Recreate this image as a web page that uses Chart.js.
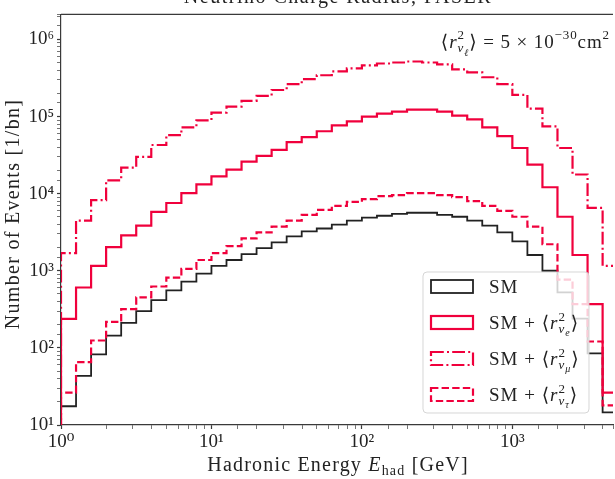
<!DOCTYPE html>
<html>
<head>
<meta charset="utf-8">
<script src="https://cdn.jsdelivr.net/npm/chart.js@4.4.1/dist/chart.umd.min.js"></script>
<style>
body{margin:0;background:#fff;}
#marco{width:615px;height:479px;position:relative;}
</style>
</head>
<body>
<div id="marco"><canvas id="idGrafEventos"></canvas></div>
<script>
// bin edges (GeV), 10 per decade
const binEdges = [1, 1.259, 1.585, 1.995, 2.512, 3.162, 3.981, 5.012, 6.310, 7.943,
	10, 12.59, 15.85, 19.95, 25.12, 31.62, 39.81, 50.12, 63.10, 79.43,
	100, 125.9, 158.5, 199.5, 251.2, 316.2, 398.1, 501.2, 631.0, 794.3,
	1000, 1259, 1585, 1995, 2512, 3162, 3981, 5012];

// events per bin
const eventsSM = [17.5, 43.4, 82.6, 144, 211, 300, 415, 556, 724, 916,
	1159, 1380, 1647, 1963, 2339, 2790, 3234, 3530, 3972, 4467,
	4876, 5168, 5480, 5650, 5650, 5321, 5020, 4467, 3855, 3141,
	2410, 1600, 1000, 525, 240, 85, 14.6];
const eventsNuE = [238, 607, 1159, 2023, 2877, 3855, 5808, 7568, 10140, 13210,
	16710, 20510, 25950, 30900, 36900, 46670, 53960, 64400, 76770, 86300,
	100000, 109200, 115900, 122800, 122800, 115900, 103000, 91600, 72400, 55600,
	39100, 23770, 12100, 5020, 1600, 369, 26.3];
const eventsNuMu = [1694, 4467, 8260, 14860, 21770, 30050, 42760, 57300, 72400, 88900,
	112500, 134000, 160000, 185300, 220800, 263000, 304800, 342700, 385500, 420800,
	459500, 487400, 502000, 516800, 502000, 473200, 408300, 374100, 323300, 263000,
	190600, 126500, 74600, 39100, 17700, 6530, 1159];
const eventsNuTau = [26.3, 65.3, 124.6, 217.5, 318.6, 453, 625, 814, 1059, 1380,
	1694, 2081, 2632, 3141, 3741, 4467, 5321, 6166, 6934, 7798,
	8511, 9296, 9575, 10140, 10140, 9575, 9016, 8022, 6934, 5984,
	5020, 3741, 2208, 767, 369, 121, 18];

const seriesNames = ['SM', 'SM + ⟨r²νe⟩', 'SM + ⟨r²νμ⟩', 'SM + ⟨r²ντ⟩'];
const flavourSubs = ['', 'e', 'μ', 'τ'];

const titulo = 'Neutrino Charge Radius, FASER';
const xTitulo = 'Hadronic Energy ';
const yTitulo = 'Number of Events [1/bn]';

const SERIF = "'Liberation Serif', 'DejaVu Serif', serif";
const ROJO = '#f0003c';
const NEGRO = '#222222';
const EJE = '#3a3a3a';
const SUP = '⁰¹²³⁴⁵⁶⁷⁸⁹';

function esPotencia(v){
	let l = Math.log10(v);
	return Math.abs(l - Math.round(l)) < 1e-6;
}

function etiquetaPot(v){
	if(!esPotencia(v)) return '';
	let e = Math.round(Math.log10(v));
	return '10' + String(e).split('').map(d => SUP[+d]).join('');
}

// histogram outline (step) from the bin arrays
function escalones(vals){
	let pts = [{x: binEdges[0], y: 0.1}];
	for(let i in vals){
		pts.push({x: binEdges[i], y: vals[i]});
	}
	pts.push({x: binEdges[vals.length], y: vals[vals.length - 1]});
	pts.push({x: binEdges[vals.length], y: 0.1});
	return pts;
}

// text with sub/superscripts
function fuente(p){
	return (p.it ? 'italic ' : '') + p.s + 'px ' + SERIF;
}
function textoRico(ctx, partes, x, y, align, esp){
	ctx.letterSpacing = (esp || 0) + 'px';
	let cx = 0, pos = [];
	for(let p of partes){
		ctx.font = fuente(p);
		pos.push(cx);
		if(!p.keep) cx += ctx.measureText(p.t).width;
	}
	let x0 = x;
	if(align === 'center') x0 = x - cx / 2;
	if(align === 'right') x0 = x - cx;
	ctx.textAlign = 'left';
	ctx.textBaseline = 'alphabetic';
	partes.forEach((p, i) => {
		ctx.font = fuente(p);
		ctx.fillText(p.t, x0 + pos[i], y + (p.dy || 0));
	});
	ctx.letterSpacing = '0px';
}
function partesLeyenda(i){
	if(i === 0) return [{t: 'SM', s: 19}];
	return [{t: 'SM + ⟨', s: 19}, {t: 'r', s: 19, it: 1},
		{t: '2', s: 13, dy: -8, keep: 1}, {t: 'ν', s: 13, it: 1, dy: 4},
		{t: flavourSubs[i], s: 10, it: 1, dy: 7}, {t: '⟩', s: 19}];
}

const extras = {
	id: 'extras',
	afterDraw(chart){
		let ctx = chart.ctx, a = chart.chartArea;
		ctx.save();
		// top spine
		ctx.strokeStyle = EJE; ctx.lineWidth = 1.2;
		ctx.beginPath(); ctx.moveTo(a.left, a.top); ctx.lineTo(a.right, a.top); ctx.stroke();

		ctx.fillStyle = '#222';
		// title (cut by the top edge)
		textoRico(ctx, [{t: titulo, s: 20}], 338, 3, 'center', 1.5);
		// x title
		textoRico(ctx, [{t: xTitulo, s: 20}, {t: 'E', s: 20, it: 1}, {t: 'had', s: 14, dy: 4}, {t: ' [GeV]', s: 20}],
			338, 471, 'center', 1.2);
		// y title
		ctx.save();
		ctx.translate(19, 214);
		ctx.rotate(-Math.PI / 2);
		textoRico(ctx, [{t: yTitulo, s: 20}], 0, 0, 'center', 1.3);
		ctx.restore();
		// annotation
		textoRico(ctx, [{t: '⟨', s: 19}, {t: 'r', s: 19, it: 1}, {t: '2', s: 13, dy: -9, keep: 1},
			{t: 'ν', s: 13, it: 1, dy: 4}, {t: 'ℓ', s: 10, it: 1, dy: 8}, {t: '⟩ = 5 × 10', s: 19},
			{t: '−30', s: 13, dy: -9}, {t: 'cm', s: 19}, {t: '2', s: 13, dy: -9}], 610, 48, 'right', 0.9);

		// legend
		let lx = 423, ly = 272, lw = 166, lh = 141;
		ctx.beginPath();
		ctx.roundRect(lx, ly, lw, lh, 4);
		ctx.fillStyle = 'rgba(255,255,255,0.8)';
		ctx.fill();
		ctx.strokeStyle = 'rgba(204,204,204,0.8)';
		ctx.lineWidth = 1;
		ctx.stroke();
		chart.data.datasets.forEach((ds, i) => {
			let cy = ly + 14 + i * 36;
			ctx.strokeStyle = ds.borderColor;
			ctx.lineWidth = ds.borderWidth;
			ctx.setLineDash(ds.borderDash || []);
			ctx.strokeRect(lx + 8, cy - 6, 42, 13);
			ctx.setLineDash([]);
			ctx.fillStyle = '#222';
			textoRico(ctx, partesLeyenda(i), lx + 66, cy + 7, 'left', 1);
		});
		ctx.restore();
	}
};

function grafica(){
	this.ini = function(){
		let comun = {pointRadius: 0, stepped: true, fill: false, tension: 0, borderJoinStyle: 'miter'};
		let datasets = [
			Object.assign({label: seriesNames[0], data: escalones(eventsSM), borderColor: NEGRO, borderWidth: 1.8, order: 3}, comun),
			Object.assign({label: seriesNames[1], data: escalones(eventsNuE), borderColor: ROJO, borderWidth: 2.2, order: 2}, comun),
			Object.assign({label: seriesNames[2], data: escalones(eventsNuMu), borderColor: ROJO, borderWidth: 2.2, borderDash: [12.8, 3.2, 2, 3.2], order: 1}, comun),
			Object.assign({label: seriesNames[3], data: escalones(eventsNuTau), borderColor: ROJO, borderWidth: 2.2, borderDash: [7.4, 3.2], order: 0}, comun)
		];
		let ejeGrid = {
			drawOnChartArea: false, drawTicks: true, tickLength: 4, tickColor: EJE,
			tickWidth: c => (c.tick && esPotencia(c.tick.value)) ? 1.2 : 0.7
		};
		let ctx = document.getElementById('idGrafEventos').getContext('2d');
		new Chart(ctx, {
			type: 'line',
			data: {datasets: datasets},
			options: {
				animation: false,
				responsive: true,
				maintainAspectRatio: false,
				layout: {padding: {top: 7, left: 0, right: 0, bottom: 0}},
				plugins: {legend: {display: false}, tooltip: {enabled: false}},
				scales: {
					x: {
						type: 'logarithmic', min: 1, max: 4667,
						afterFit: s => { s.height = 54; },
						border: {display: true, color: EJE, width: 1.2},
						grid: ejeGrid,
						ticks: {autoSkip: false, maxRotation: 0, padding: 2, color: '#222',
							font: {family: SERIF, size: 19}, callback: v => etiquetaPot(v)}
					},
					y: {
						type: 'logarithmic', min: 10, max: 2.11e6,
						afterFit: s => { s.width = 61; },
						border: {display: true, color: EJE, width: 1.2},
						grid: ejeGrid,
						ticks: {autoSkip: false, padding: 3, color: '#222',
							font: {family: SERIF, size: 19}, callback: v => etiquetaPot(v)}
					}
				}
			},
			plugins: [extras]
		});
	}
}

var oGrafica = new grafica();
oGrafica.ini();
</script>
</body>
</html>
